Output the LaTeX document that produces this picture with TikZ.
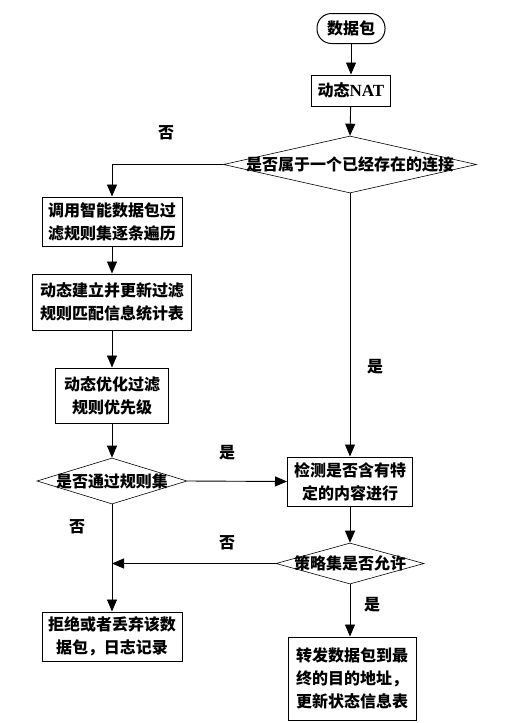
\documentclass[tikz,border=0pt]{standalone}
\usepackage{fontspec}
\setmainfont{Liberation Serif}
\newfontfamily\cjk{Noto Sans CJK SC}
\usetikzlibrary{arrows.meta,shapes.geometric,calc}
\tikzset{
  txt/.style={font=\cjk\bfseries\fontsize{16pt}{23pt}\selectfont},
  box/.style={txt,draw,line width=1pt,inner sep=0pt,align=center},
  dia/.style={draw,diamond,line width=0.6pt,inner sep=0pt},
  arr/.style={line width=0.9pt,-{Triangle[length=12pt,width=10pt]}},
  lbl/.style={txt,inner sep=0pt}
}
\begin{document}
\begin{tikzpicture}[x=1pt,y=-1pt]
\useasboundingbox (0,0) rectangle (528,723);
% nodes
\node[box,rounded corners=14.5pt,minimum width=68pt,minimum height=30pt] (start) at (351,28.5) {数据包};
\node[box,minimum width=79pt,minimum height=31pt] (nat) at (351,90.5) {动态{\rmfamily\bfseries\fontsize{17pt}{20pt}\selectfont NAT}};
\node[dia,minimum width=253pt,minimum height=57pt,label={[txt]center:是否属于一个已经存在的连接}] (d1) at (350,164.5) {};
\node[box,minimum width=140pt,minimum height=49pt] (b1) at (112,221.5) {调用智能数据包过\\滤规则集逐条遍历};
\node[box,minimum width=159pt,minimum height=56pt] (b2) at (112,302) {动态建立并更新过滤\\规则匹配信息统计表};
\node[box,minimum width=113pt,minimum height=55pt] (b3) at (112,395.5) {动态优化过滤\\规则优先级};
\node[dia,minimum width=150pt,minimum height=46pt,label={[txt]center:是否通过规则集}] (d2) at (112,481) {};
\node[box,minimum width=125pt,minimum height=49pt] (b4) at (350,481.5) {检测是否含有特\\定的内容进行};
\node[dia,minimum width=148pt,minimum height=41pt,label={[txt]center:策略集是否允许}] (d3) at (350,563.5) {};
\node[box,minimum width=140pt,minimum height=49pt] (b5) at (112,636.5) {拒绝或者丢弃该数\\据包，日志记录};
\node[box,minimum width=128pt,minimum height=83pt,align=left] (b6) at (352,678.5) {转发数据包到最\\终的目的地址，\\更新状态信息表};
\coordinate (j) at (d2.south |- d3.west);
% labels
\node[lbl] (l1) at (166,133) {否};
\node[lbl] (l2) at (375,367) {是};
\node[lbl] (l3) at (227,453) {是};
\node[lbl] (l4) at (77,527) {否};
\node[lbl] (l5) at (227,543) {否};
\node[lbl] (l6) at (372,605) {是};
% connectors
\draw[arr] (start) -- (nat);
\draw[arr] (nat) -- (d1.north);
\draw[arr] (d1.west) -| (b1.north);
\draw[arr] (b1) -- (b2);
\draw[arr] (b2) -- (b3);
\draw[arr] (b3) -- (d2.north);
\draw[arr] (d1.south) -- (b4.north);
\draw[arr] (d2.east) -- (b4.west);
\draw[arr] (b4) -- (d3.north);
\draw[arr] (d2.south) -- (b5.north);
\draw[arr] (d3.west) -- (j);
\draw[arr] (d3.south) -- (d3.south |- b6.north);
\end{tikzpicture}
\end{document}
